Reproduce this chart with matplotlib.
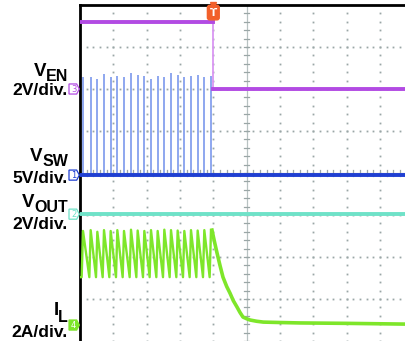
#!/usr/bin/env python3
"""Scope capture: EN pulled low, switcher stops, inductor current decays."""
import numpy as np
import matplotlib
matplotlib.use("Agg")
import matplotlib.pyplot as plt
from matplotlib.patches import Polygon

# all times in divisions (10 across), levels in divisions (-4 .. 4)
trigger_t = 4.0
ven_high = 3.6
ven_low = 2.0
sw_base = -0.05
vout_level = -0.98

sw_pulse_t = [0.09, 0.32, 0.52, 0.72, 0.92, 1.12, 1.32, 1.53, 1.73, 1.93,
              2.13, 2.33, 2.53, 2.73, 2.93, 3.13, 3.33, 3.53, 3.73, 3.93]
sw_pulse_top = [2.29, 2.29, 2.25, 2.36, 2.28, 2.31, 2.28, 2.38, 2.33, 2.31,
                2.25, 2.31, 2.28, 2.38, 2.33, 2.28, 2.31, 2.33, 2.29, 2.31]

il_peak = [-1.38, -1.36, -1.40, -1.36, -1.38, -1.36, -1.38, -1.35, -1.37, -1.38,
           -1.36, -1.38, -1.35, -1.36, -1.37, -1.38, -1.36, -1.37, -1.36, -1.36]
il_trough = -2.48
decay_t = [3.96, 4.03, 4.11, 4.20, 4.29, 4.40, 4.50, 4.60, 4.71, 4.80, 4.89,
           5.00, 5.10, 5.30, 5.50, 6.00, 6.60, 8.00, 10.0]
decay_i = [-1.36, -1.62, -1.90, -2.20, -2.48, -2.70, -2.86, -3.04, -3.19, -3.32,
           -3.43, -3.47, -3.50, -3.53, -3.55, -3.56, -3.57, -3.58, -3.60]

labels = [("V", "EN", "2V/div."), ("V", "SW", "5V/div."),
          ("V", "OUT", "2V/div."), ("I", "L", "2A/div.")]

C_EN = "#b24be3"
C_EN_EDGE = "#d996f2"
C_SW = "#1f3fd2"
C_SW_PULSE = "#8ea7ef"
C_OUT = "#6fe2c8"
C_IL = "#7ee62a"
C_TRIG = "#f2602a"
C_GRID = "#9aa6a6"

W, H = 406, 341
fig = plt.figure(figsize=(W / 100, H / 100), dpi=100)
fig.patch.set_facecolor("white")
ax = fig.add_axes([80 / W, 0, 333.3 / W, 336 / H])
ax.set_xlim(0, 10)
ax.set_ylim(-4, 4)
ax.set_xticks([])
ax.set_yticks([])
for side in ("right", "bottom"):
    ax.spines[side].set_visible(False)
for side in ("left", "top"):
    ax.spines[side].set_linewidth(2.0)
    ax.spines[side].set_color("black")

# graticule
dots_y = np.arange(-4, 4.01, 0.2)
dots_x = np.arange(0, 10.01, 0.2)
for gx in range(1, 10):
    if gx == 5:
        continue
    ax.plot([gx] * len(dots_y), dots_y, ls="none", marker="s", ms=1.3,
            mec="none", color=C_GRID, zorder=1)
for gy in range(-3, 4):
    if gy == 0:
        continue
    ax.plot(dots_x, [gy] * len(dots_x), ls="none", marker="s", ms=1.3,
            mec="none", color=C_GRID, zorder=1)
ax.axvline(5, color="#b8c2c2", lw=0.9, zorder=1)
ax.axhline(0, color="#b8c2c2", lw=0.9, zorder=1)
for yy in dots_y:
    ax.plot([4.92, 5.08], [yy, yy], color=C_GRID, lw=0.9, zorder=1)
for xx in dots_x:
    ax.plot([xx, xx], [-0.07, 0.07], color=C_GRID, lw=0.9, zorder=1)

# V_EN
ax.plot([0, trigger_t], [ven_high, ven_high], color=C_EN, lw=2.8, zorder=5)
ax.plot([trigger_t, trigger_t], [ven_high, ven_low], color=C_EN_EDGE, lw=1.3, zorder=4)
ax.plot([trigger_t, 10], [ven_low, ven_low], color=C_EN, lw=2.8, zorder=5)

# V_SW
ax.vlines(sw_pulse_t, sw_base, sw_pulse_top, color=C_SW_PULSE, lw=1.4, zorder=3)
ax.plot([0, 10], [sw_base, sw_base], color=C_SW, lw=2.8, zorder=4)

# V_OUT
ax.plot([0, 10], [vout_level, vout_level], color=C_OUT, lw=2.8, zorder=4)

# I_L: steep rise into each peak, slow ramp down
il_t = [0.0]
il_v = [il_trough]
for tp, ip in zip(sw_pulse_t, il_peak):
    il_t += [tp - 0.04, tp]
    il_v += [il_trough, ip]
ax.plot(il_t, il_v, color=C_IL, lw=1.7, zorder=4)
ax.plot(decay_t, decay_i, color=C_IL, lw=2.6, zorder=4)

# trigger marker
ax.text(trigger_t, 3.82, "T", color="white", fontsize=7.5, fontweight="bold",
        ha="center", va="center", zorder=8, clip_on=False,
        bbox=dict(boxstyle="round,pad=0.22", fc=C_TRIG, ec=C_TRIG))
ax.plot([trigger_t], [4.0], marker="v", ms=4, color=C_TRIG, zorder=8, clip_on=False)

# channel ground markers
chan = [("3", ven_low, C_EN, False), ("1", sw_base, C_SW, False),
        ("2", vout_level, C_OUT, False), ("4", -3.62, C_IL, True)]
for num, lvl, col, filled in chan:
    pts = [(-0.33, lvl + 0.12), (-0.1, lvl + 0.12), (-0.02, lvl),
           (-0.1, lvl - 0.12), (-0.33, lvl - 0.12)]
    ax.add_patch(Polygon(pts, closed=True, fc=col if filled else "white",
                         ec=col, lw=0.9, clip_on=False, zorder=6))
    ax.text(-0.19, lvl, num, color="white" if filled else col, fontsize=6,
            ha="center", va="center", clip_on=False, zorder=7)

# channel labels, placed in pixel positions (x = right edge, y = baseline)
font = "Liberation Sans"
main_y = [76, 161, 207, 315]
sub_y = [81, 166, 212, 322]
div_y = [95, 183, 229, 337]
renderer = fig.canvas.get_renderer()
for (main, sub, scale), my, sy, dy in zip(labels, main_y, sub_y, div_y):
    st = fig.text(68 / W, 1 - sy / H, sub, fontsize=11.5, fontweight="bold",
                  family=font, ha="right", va="baseline")
    left_px = st.get_window_extent(renderer).x0
    fig.text((left_px + 0.5) / W, 1 - my / H, main, fontsize=13.5,
             fontweight="bold", family=font, ha="right", va="baseline")
    fig.text(68 / W, 1 - dy / H, scale, fontsize=12.6, fontweight="bold",
             family=font, ha="right", va="baseline")

fig.savefig("out.png", dpi=100)
plt.close(fig)
